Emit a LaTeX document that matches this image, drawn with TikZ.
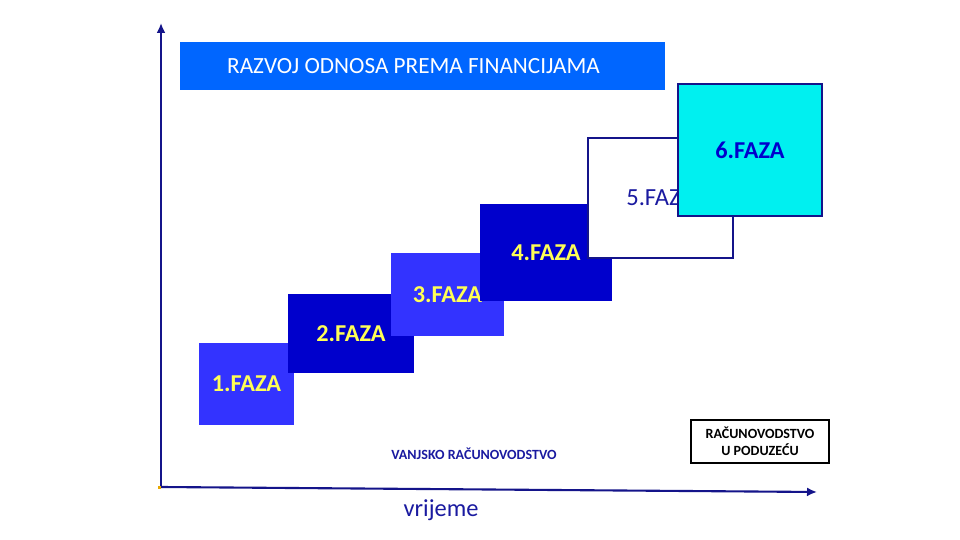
\documentclass[tikz,border=0pt]{standalone}
\usepackage{fontspec}
\setmainfont{Carlito}
\usepackage{xcolor}
\usetikzlibrary{arrows.meta,positioning}
\definecolor{axisline}{HTML}{14148A}
\definecolor{titleblue}{HTML}{0066FF}
\definecolor{stepa}{HTML}{3333FF}
\definecolor{stepb}{HTML}{0000CC}
\definecolor{stepcyan}{HTML}{00F0F0}
\definecolor{label}{HTML}{1A1AA0}
\definecolor{fazayellow}{HTML}{FFFF55}
\definecolor{origin}{HTML}{E8A800}
\tikzset{
  fazabox/.style={rectangle, inner sep=0pt, align=center,
                  font=\fontsize{13.8}{15}\selectfont\bfseries, text=fazayellow},
  openbox/.style={rectangle, draw=axisline, line width=0.6pt, fill=white,
                  inner sep=0pt, align=center},
  axis/.style={-{Latex[length=2mm,width=1.8mm]}, line width=1.2pt, draw=axisline},
  note/.style={font=\fontsize{8}{9.6}\selectfont\bfseries, text=label, align=center}
}
\begin{document}
\begin{tikzpicture}[x=0.02cm,y=-0.02cm]
        \useasboundingbox[fill=white] (0,0) rectangle (960,540);
        % axes
        \coordinate (o) at (161,487);
        \coordinate (ytop) at (161,23);
        \coordinate (xend) at (817,492);
        \draw[axis] (o) -- (ytop);
        \draw[axis] (o) -- (xend);
        \fill[origin] (158,489) rectangle ++(3,-3);
        % title
        \node[rectangle,fill=titleblue,minimum width=9.7cm,minimum height=0.96cm,
              text=white,font=\fontsize{13.2}{15}\selectfont] (title) at (422.5,66)
          {RAZVOJ ODNOSA PREMA FINANCIJAMA\hspace*{0.36cm}};
        % phases
        \node[fazabox,fill=stepa,minimum width=1.9cm,minimum height=1.64cm] (f1) at (246.5,384) {1.FAZA};
        \node[fazabox,fill=stepb,minimum width=2.52cm,minimum height=1.58cm] (f2) at (351,333.5) {2.FAZA};
        \node[fazabox,fill=stepa,minimum width=2.26cm,minimum height=1.66cm] (f3) at (447.5,294.5) {3.FAZA};
        \node[fazabox,fill=stepb,minimum width=2.64cm,minimum height=1.94cm] (f4) at (546,252.5) {4.FAZA};
        \node[openbox,minimum width=2.9cm,minimum height=2.4cm,text=label,
              font=\fontsize{14}{16}\selectfont] (f5) at (660.5,198) {5.FAZA};
        \node[openbox,fill=stepcyan,minimum width=2.88cm,minimum height=2.64cm,text=stepb,
              font=\fontsize{13.8}{15}\selectfont\bfseries] (f6) at (750,150) {6.FAZA};
        % bottom labels
        \node[note] (vanjsko) at (474,454) {VANJSKO RAČUNOVODSTVO};
        \node[openbox,note,draw=black,text=black,minimum width=2.76cm,minimum height=0.86cm] (unutra) at (760,441.5)
          {RAČUNOVODSTVO\\U PODUZEĆU};
        \node[text=label,font=\fontsize{13.9}{16}\selectfont] (vrijeme) at (441,510) {vrijeme};
      \end{tikzpicture}
\end{document}
